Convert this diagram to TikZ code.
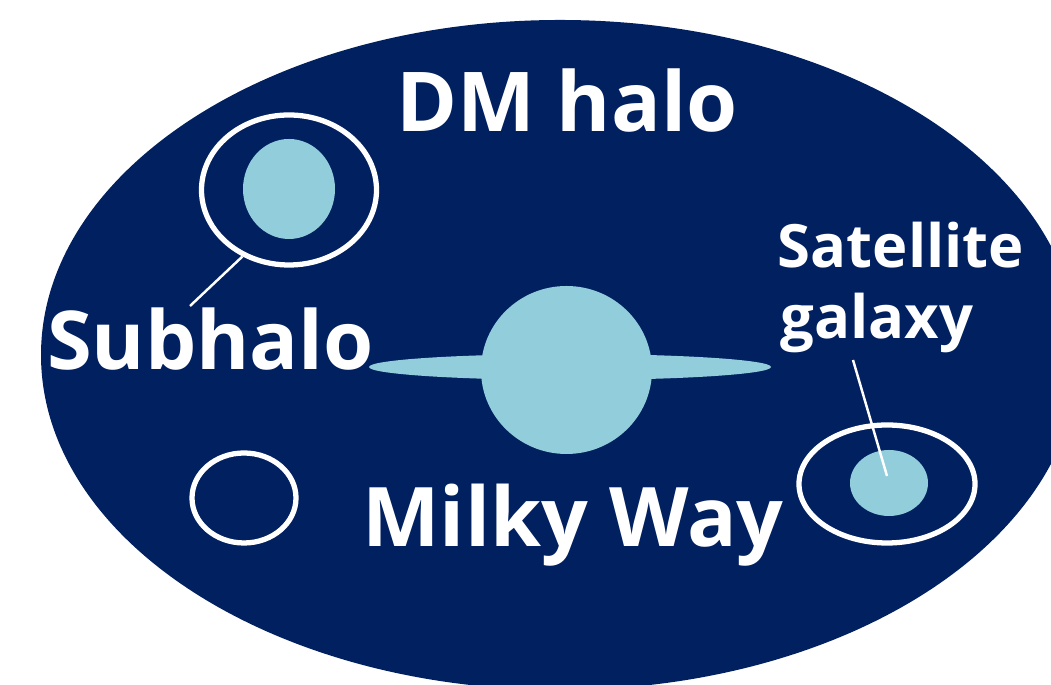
\documentclass[tikz,border=0pt]{standalone}
\usepackage{fontspec}
\setmainfont{Open Sans}
\usepackage{xcolor}
\usetikzlibrary{positioning, shapes.geometric}
\definecolor{halocolor}{RGB}{0, 32, 96}
\definecolor{galaxycolor}{RGB}{146, 205, 220}
\tikzset{
  blob/.style={ellipse, fill=galaxycolor, inner sep=0pt},
  ring/.style={ellipse, draw=white, line width=1.5pt, inner sep=0pt},
  label/.style={text=white, inner sep=0pt, font=\bfseries\fontsize{#1}{#1}\selectfont},
  pointer/.style={draw=white, line width=0.7pt}
}
\begin{document}
\begin{tikzpicture}
        \useasboundingbox (0,0) rectangle (10.51,6.85);
        \clip (0,0) rectangle (10.51,6.85);
        \node[ellipse, fill=halocolor, inner sep=0pt, minimum width=10.38cm, minimum height=6.7cm] (halo) at (5.60,3.30) {};
        % upper subhalo with its galaxy
        \node[ring, minimum width=1.75cm, minimum height=1.50cm] (subring) at (2.89,4.95) {};
        \node[blob, minimum width=0.92cm, minimum height=1.0cm] (subgalaxy) at (2.89,4.96) {};
        % empty subhalo
        \node[ring, minimum width=1.04cm, minimum height=0.90cm] (darkring) at (2.44,1.87) {};
        % satellite
        \node[ring, minimum width=1.76cm, minimum height=1.18cm] (satring) at (8.87,2.01) {};
        \node[blob, minimum width=0.78cm, minimum height=0.66cm] (satgalaxy) at (8.89,2.02) {};
        % Milky Way disc and bulge
        \node[blob, minimum width=4.02cm, minimum height=0.26cm] (disc) at (5.70,3.18) {};
        \node[blob, minimum width=1.71cm, minimum height=1.68cm] (bulge) at (5.665,3.15) {};
        % labels
        \node[label=23.5] (halotext) at (5.67,5.84) {DM halo};
        \node[label=23.1] (subtext) at (2.105,3.46) {Subhalo};
        \node[label=23.4] (mwtext) at (5.73,1.60) {Milky Way};
        \node[label=17] (sattext) at (9.01,4.40) {Satellite};
        \node[label=17] (galtext) at (8.77,3.62) {galaxy};
        % pointers
        \coordinate (subfoot) at (1.90,3.79);
        \coordinate (satfoot) at (8.53,3.25);
        \coordinate (sattip) at (8.87,2.09);
        \draw[pointer] (subring.235) -- (subfoot);
        \draw[pointer] (satfoot) -- (sattip);
      \end{tikzpicture}
\end{document}
